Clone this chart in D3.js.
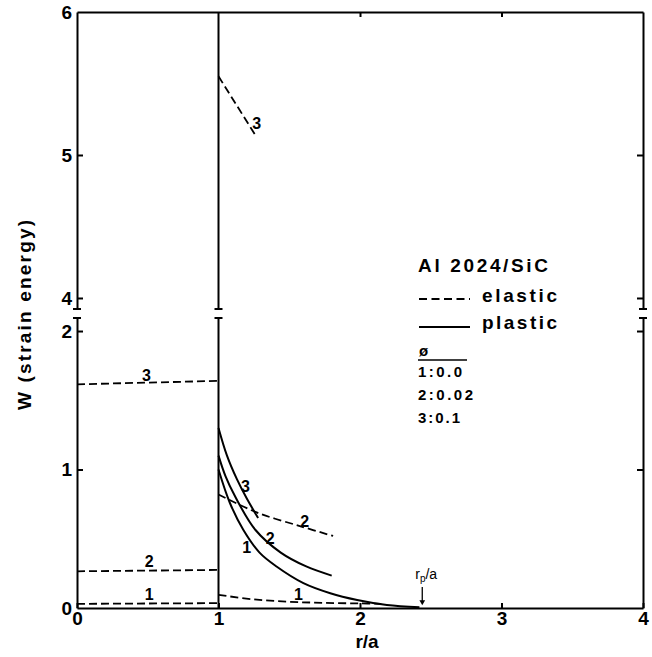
<!DOCTYPE html>
<html>
<head>
<meta charset="utf-8">
<script src="https://cdn.jsdelivr.net/npm/d3@7"></script>
<style>
  body { margin: 0; background: #fff; }
  svg { font-family: "Liberation Sans", Arial, sans-serif; }
  .axis path, .axis line { stroke: #000; stroke-width: 2; }
  .axis text { font-size: 19px; font-weight: bold; fill: #000; }
</style>
</head>
<body>
<svg width="652" height="657"></svg>
<script>
// elastic (dashed) curves, r/a vs W
const elastic1In = [[0, 0.03], [1, 0.035]]
const elastic2In = [[0, 0.265], [1, 0.275]]
const elastic3In = [[0, 1.615], [1, 1.64]]
const elastic1Out = [[1, 0.095], [1.25, 0.062], [1.5, 0.045], [1.75, 0.037], [2.0, 0.033], [2.15, 0.03]]
const elastic2Out = [[1, 0.82], [1.27, 0.69], [1.58, 0.59], [1.81, 0.52]]
const elastic3Out = [[1, 5.55], [1.26, 5.14]]   // in the upper panel

// plastic (solid) curves
const plastic1 = [[1, 1.0], [1.08, 0.76], [1.175, 0.565], [1.29, 0.40], [1.41, 0.30], [1.6, 0.18],
                  [1.79, 0.107], [1.98, 0.058], [2.19, 0.022], [2.42, 0.006]]
const plastic2 = [[1, 1.10], [1.05, 0.95], [1.115, 0.81], [1.26, 0.565], [1.44, 0.40], [1.62, 0.30], [1.80, 0.234]]
const plastic3 = [[1, 1.30], [1.06, 1.10], [1.13, 0.93], [1.2, 0.79], [1.28, 0.65]]

// curve number labels [text, r, W]
const curveLabels = [["3", 0.49, 1.68], ["2", 0.51, 0.335], ["1", 0.51, 0.094],
                     ["3", 1.19, 0.88], ["2", 1.365, 0.505], ["1", 1.2, 0.44],
                     ["2", 1.61, 0.625], ["1", 1.565, 0.094]]
const upperLabels = [["3", 1.27, 5.22]]

const xTicks = [0, 1, 2, 3, 4]
const yTicksHi = [4, 5, 6]
const yTicksLo = [0, 1, 2]
const phiLegend = ["1:0.0", "2:0.02", "3:0.1"]
const phiWidths = [44, 55, 42]
const rpOverA = 2.44

var svg = d3.select("svg")

var x = d3.scaleLinear().domain([0, 4]).range([77, 643])
var yHi = d3.scaleLinear().domain([3.923, 6]).range([309, 12])
var yLo = d3.scaleLinear().domain([0, 2.094]).range([608, 318])

// axes
svg.append("g").attr("class", "axis")
    .attr("transform", "translate(0," + yLo(0) + ")")
    .call(d3.axisBottom(x).tickValues(xTicks).tickFormat(d3.format("d"))
      .tickSizeInner(-5).tickSizeOuter(0).tickPadding(4))

svg.append("g").attr("class", "axis")
    .attr("transform", "translate(0," + yHi(6) + ")")
    .call(d3.axisTop(x).tickValues([2, 3]).tickFormat("")
      .tickSizeInner(-5).tickSizeOuter(0))

svg.append("g").attr("class", "axis")
    .attr("transform", "translate(" + x(0) + ",0)")
    .call(d3.axisLeft(yHi).tickValues(yTicksHi).tickFormat(d3.format("d"))
      .tickSizeInner(-6).tickSizeOuter(0).tickPadding(5))
    .call(g => g.selectAll(".tick").filter(d => d === 6).select("line").remove())

svg.append("g").attr("class", "axis")
    .attr("transform", "translate(" + x(0) + ",0)")
    .call(d3.axisLeft(yLo).tickValues(yTicksLo).tickFormat(d3.format("d"))
      .tickSizeInner(-6).tickSizeOuter(0).tickPadding(5))
    .call(g => g.selectAll(".tick").filter(d => d === 0).select("line").remove())

svg.append("g").attr("class", "axis")
    .attr("transform", "translate(" + x(4) + ",0)")
    .call(d3.axisRight(yHi).tickValues([4, 5]).tickFormat("").tickSizeInner(-6).tickSizeOuter(0))
svg.append("g").attr("class", "axis")
    .attr("transform", "translate(" + x(4) + ",0)")
    .call(d3.axisRight(yLo).tickValues([1, 2]).tickFormat("").tickSizeInner(-6).tickSizeOuter(0))

// vertical line at r/a = 1 (both panels)
var axLines = svg.append("g").attr("stroke", "#000").attr("stroke-width", 2)
axLines.append("line").attr("x1", x(1)).attr("x2", x(1)).attr("y1", yHi(6)).attr("y2", yHi.range()[0])
axLines.append("line").attr("x1", x(1)).attr("x2", x(1)).attr("y1", yLo.range()[1]).attr("y2", yLo(0))

// break caps
;[0, 1, 4].forEach(v => {
  axLines.append("line").attr("x1", x(v) - 4).attr("x2", x(v) + 4)
      .attr("y1", yHi.range()[0]).attr("y2", yHi.range()[0])
  axLines.append("line").attr("x1", x(v) - 4).attr("x2", x(v) + 4)
      .attr("y1", yLo.range()[1]).attr("y2", yLo.range()[1])
})

var lineLo = d3.line().x(d => x(d[0])).y(d => yLo(d[1])).curve(d3.curveCatmullRom.alpha(0.5))
var lineHi = d3.line().x(d => x(d[0])).y(d => yHi(d[1])).curve(d3.curveCatmullRom.alpha(0.5))

var curves = svg.append("g").attr("fill", "none").attr("stroke", "#000")

;[elastic1In, elastic2In, elastic3In, elastic1Out, elastic2Out].forEach(c => {
  curves.append("path").attr("d", lineLo(c))
      .attr("stroke-width", 1.8).attr("stroke-dasharray", "8,4")
})
curves.append("path").attr("d", lineHi(elastic3Out))
    .attr("stroke-width", 1.8).attr("stroke-dasharray", "8,4")

;[plastic1, plastic2, plastic3].forEach(c => {
  curves.append("path").attr("d", lineLo(c)).attr("stroke-width", 2)
})

// curve labels
var lab = svg.append("g").attr("font-size", 16).attr("font-weight", "bold")
    .attr("text-anchor", "middle").attr("dominant-baseline", "central")
lab.selectAll("text.lo").data(curveLabels).enter().append("text").attr("class", "lo")
    .attr("x", d => x(d[1])).attr("y", d => yLo(d[2])).text(d => d[0])
lab.selectAll("text.hi").data(upperLabels).enter().append("text").attr("class", "hi")
    .attr("x", d => x(d[1])).attr("y", d => yHi(d[2])).text(d => d[0])

// r_p/a marker
var rp = svg.append("g")
rp.append("line").attr("x1", x(rpOverA)).attr("x2", x(rpOverA))
    .attr("y1", yLo(0) - 21).attr("y2", yLo(0) - 5).attr("stroke", "#000").attr("stroke-width", 1.3)
rp.append("path").attr("d", d3.symbol(d3.symbolTriangle, 14)())
    .attr("transform", "translate(" + x(rpOverA) + "," + (yLo(0) - 6) + ") rotate(180)")
var rpText = rp.append("text").attr("x", x(rpOverA) - 7).attr("y", yLo(0) - 29)
    .attr("font-size", 14)
rpText.append("tspan").text("r")
rpText.append("tspan").attr("font-size", 10).attr("dy", 3).text("p")
rpText.append("tspan").attr("dy", -3).text("/a")

// axis titles
svg.append("text").attr("x", x(2.05)).attr("y", 648).attr("text-anchor", "middle")
    .attr("font-size", 19).attr("font-weight", "bold").text("r/a")
svg.append("text").attr("transform", "translate(31,315) rotate(-90)")
    .attr("text-anchor", "middle").attr("font-size", 19).attr("font-weight", "bold")
    .attr("textLength", 190).attr("lengthAdjust", "spacing")
    .text("W (strain energy)")

// legend
var leg = svg.append("g").attr("font-weight", "bold")
leg.append("text").attr("x", 418).attr("y", 272).attr("font-size", 19)
    .attr("textLength", 130).attr("lengthAdjust", "spacing").text("Al 2024/SiC")
leg.append("line").attr("x1", 419).attr("x2", 470).attr("y1", 299).attr("y2", 299)
    .attr("stroke", "#000").attr("stroke-width", 1.8).attr("stroke-dasharray", "8,4.5")
leg.append("text").attr("x", 482).attr("y", 302).attr("font-size", 19)
    .attr("textLength", 75).attr("lengthAdjust", "spacing").text("elastic")
leg.append("line").attr("x1", 419).attr("x2", 470).attr("y1", 327).attr("y2", 327)
    .attr("stroke", "#000").attr("stroke-width", 1.8)
leg.append("text").attr("x", 482).attr("y", 329).attr("font-size", 19)
    .attr("textLength", 75).attr("lengthAdjust", "spacing").text("plastic")
leg.append("text").attr("x", 419).attr("y", 356).attr("font-size", 15).text("ø")
leg.append("line").attr("x1", 418).attr("x2", 467).attr("y1", 360).attr("y2", 360)
    .attr("stroke", "#000").attr("stroke-width", 1.5)
leg.selectAll("text.phi").data(phiLegend).enter().append("text").attr("class", "phi")
    .attr("x", 418).attr("y", (d, i) => 377 + i * 23).attr("font-size", 15)
    .attr("textLength", (d, i) => phiWidths[i]).attr("lengthAdjust", "spacing").text(d => d)
</script>
</body>
</html>
